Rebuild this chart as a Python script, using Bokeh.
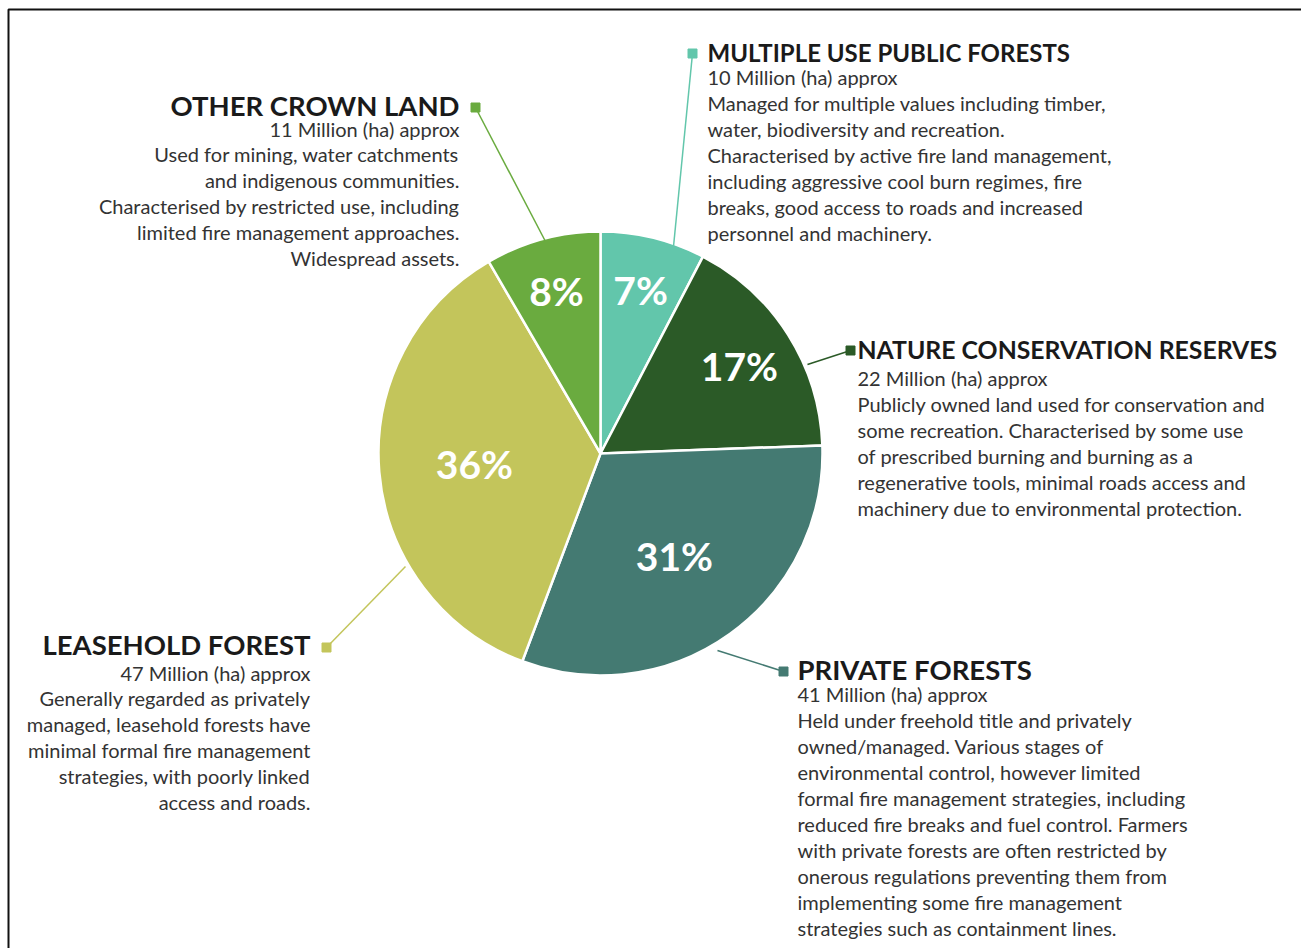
import math
from bokeh.plotting import figure
from bokeh.models import ColumnDataSource, Range1d
from bokeh.core.properties import value
from bokeh.embed import file_html
from bokeh.resources import INLINE

# ---------------- data ----------------
categories = ["MULTIPLE USE PUBLIC FORESTS", "NATURE CONSERVATION RESERVES",
              "PRIVATE FORESTS", "LEASEHOLD FOREST", "OTHER CROWN LAND"]
areas_mha = [10, 22, 41, 47, 11]
pct_labels = ["7%", "17%", "31%", "36%", "8%"]
colors = ["#62c6ab", "#2b5a27", "#447a72", "#c3c55b", "#6aab3f"]

desc_multiple = ["10 Million (ha) approx",
                 "Managed for multiple values including timber,",
                 "water, biodiversity and recreation.",
                 "Characterised by active fire land management,",
                 "including aggressive cool burn regimes, fire",
                 "breaks, good access to roads and increased",
                 "personnel and machinery."]
desc_nature = ["22 Million (ha) approx",
               "Publicly owned land used for conservation and",
               "some recreation. Characterised by some use",
               "of prescribed burning and burning as a",
               "regenerative tools, minimal roads access and",
               "machinery due to environmental protection."]
desc_private = ["41 Million (ha) approx",
                "Held under freehold title and privately",
                "owned/managed. Various stages of",
                "environmental control, however limited",
                "formal fire management strategies, including",
                "reduced fire breaks and fuel control. Farmers",
                "with private forests are often restricted by",
                "onerous regulations preventing them from",
                "implementing some fire management",
                "strategies such as containment lines."]
desc_leasehold = ["47 Million (ha) approx",
                  "Generally regarded as privately",
                  "managed, leasehold forests have",
                  "minimal formal fire management",
                  "strategies, with poorly linked",
                  "access and roads."]
desc_other = ["11 Million (ha) approx",
              "Used for mining, water catchments",
              "and indigenous communities.",
              "Characterised by restricted use, including",
              "limited fire management approaches.",
              "Widespread assets."]
descriptions = [desc_multiple, desc_nature, desc_private, desc_leasehold, desc_other]

# ---------------- layout ----------------
W, H = 1301, 948
def Y(sy):
    return H - sy

CX, CY, R = 600, Y(453), 222

p = figure(width=W, height=H, x_range=Range1d(0, W), y_range=Range1d(0, H),
           output_backend="svg", toolbar_location=None, min_border=0)
p.axis.visible = False
p.grid.visible = False
p.outline_line_color = None
p.background_fill_color = "white"
p.border_fill_color = "white"

# frame
p.quad(left=[8], right=[W + 20], top=[Y(9)], bottom=[-20],
       fill_color=None, line_color="#111111", line_width=2)

# wedges
total = float(sum(areas_mha))
starts, ends, mids = [], [], []
cum = 0.0
for a in areas_mha:
    f0 = cum / total
    cum += a
    f1 = cum / total
    starts.append(math.pi / 2 - 2 * math.pi * f0)
    ends.append(math.pi / 2 - 2 * math.pi * f1)
    mids.append(math.pi / 2 - 2 * math.pi * (f0 + f1) / 2)

src = ColumnDataSource(dict(start=starts, end=ends, color=colors))
p.wedge(x=CX, y=CY, radius=R, start_angle="start", end_angle="end",
        direction="clock", fill_color="color", line_color="white",
        line_width=2.5, source=src)

# percentage labels
lx, ly = [], []
for a, m in zip(areas_mha, mids):
    frac = a / total
    if frac < 0.1:
        rr = R * 0.76
    elif frac < 0.25:
        rr = R * 0.74
    else:
        rr = R * 0.57
    lx.append(CX + rr * math.cos(m))
    ly.append(CY + rr * math.sin(m))
p.text(x=lx, y=ly, text=pct_labels, text_color="white",
       text_font=value("Lato"), text_font_style="bold", text_font_size="39px",
       text_align="center", text_baseline="middle")

# annotation blocks
blocks = [
    dict(edge=(673, 246), sq=(692, 53), tx=707, ty=52, align="left", ly0=76, step=26.0, ts="24px"),
    dict(edge=(807, 364), sq=(850, 350), tx=857, ty=349, align="left", ly0=377, step=26.0, ts="24.8px"),
    dict(edge=(717, 650), sq=(783, 671), tx=797, ty=669, align="left", ly0=693, step=26.0, ts="27.5px"),
    dict(edge=(405, 566), sq=(326, 647), tx=310, ty=644, align="right", ly0=672, step=25.8, ts="27.5px"),
    dict(edge=(545, 241), sq=(475, 107), tx=459, ty=105, align="right", ly0=128, step=25.8, ts="27.5px"),
]

for cat, col, desc, b in zip(categories, colors, descriptions, blocks):
    ex, ey = b["edge"]
    sx, sy = b["sq"]
    p.segment(x0=[ex], y0=[Y(ey)], x1=[sx], y1=[Y(sy)], line_color=col, line_width=1.5)
    p.scatter(x=[sx], y=[Y(sy)], marker="square", size=9, fill_color=col, line_color=col)
    p.text(x=[b["tx"]], y=[Y(b["ty"])], text=[cat], text_color="#1a1a1a",
           text_font=value("Lato"), text_font_style="bold", text_font_size=b["ts"],
           text_align=b["align"], text_baseline="middle")
    ys = [Y(b["ly0"] + i * b["step"]) for i in range(len(desc))]
    p.text(x=[b["tx"]] * len(desc), y=ys, text=desc, text_color="#333333",
           text_font=value("Lato"), text_font_size="20px",
           text_align=b["align"], text_baseline="middle")

open("out.html", "w").write(file_html(p, INLINE))
